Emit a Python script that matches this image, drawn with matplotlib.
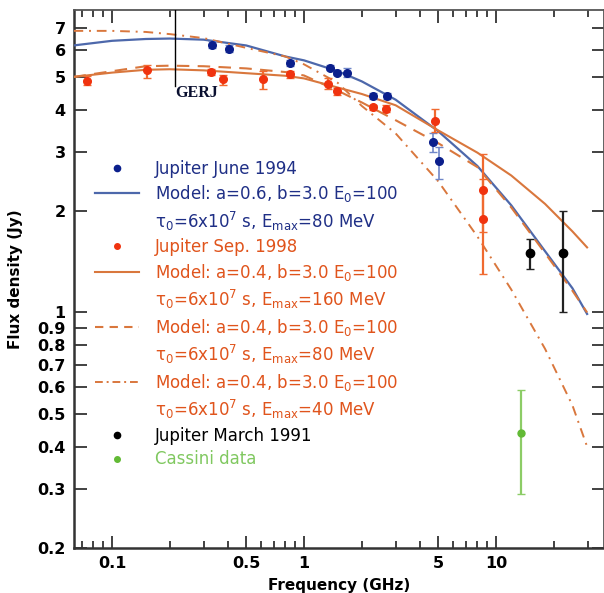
import matplotlib
matplotlib.use("Agg")
import matplotlib.pyplot as plt
from matplotlib.lines import Line2D
from matplotlib.legend_handler import HandlerLine2D
from matplotlib.ticker import FixedLocator, NullFormatter, FixedFormatter
import numpy as np

# ---------------- data ----------------
june94_freq = [0.33, 0.407, 0.846, 1.37, 1.49, 1.68, 2.30, 2.70, 4.72, 5.05]
june94_flux = [6.23, 6.07, 5.49, 5.33, 5.15, 5.15, 4.39, 4.39, 3.20, 2.81]
june94_elo = [0.15, 0.15, 0.12, 0.08, 0.08, 0.15, 0.08, 0.10, 0.20, 0.32]
june94_ehi = [0.15, 0.15, 0.12, 0.08, 0.08, 0.18, 0.08, 0.10, 0.22, 0.28]

sep98_freq = [0.0743, 0.152, 0.329, 0.38, 0.61, 0.846, 1.34, 1.49, 2.30, 2.67, 4.8, 8.52, 8.52]
sep98_flux = [4.87, 5.25, 5.18, 4.92, 4.92, 5.10, 4.76, 4.55, 4.06, 4.03, 3.70, 2.31, 1.89]
sep98_elo = [0.15, 0.27, 0.10, 0.20, 0.31, 0.12, 0.15, 0.12, 0.08, 0.10, 0.27, 0.58, 0.59]
sep98_ehi = [0.15, 0.19, 0.10, 0.15, 0.29, 0.12, 0.20, 0.10, 0.08, 0.10, 0.31, 0.64, 0.60]

mar91_freq = [14.98, 22.2]
mar91_flux = [1.50, 1.50]
mar91_elo = [0.15, 0.50]
mar91_ehi = [0.15, 0.50]

cassini_freq = [13.5]
cassini_flux = [0.44]
cassini_elo = [0.15]
cassini_ehi = [0.15]

model_freq = [0.063, 0.1, 0.15, 0.2, 0.3, 0.5, 0.8, 1.0, 1.5, 2, 3, 5, 8, 12, 18, 25, 29.8]
model_a06_e80 = [6.2, 6.4, 6.48, 6.5, 6.45, 6.2, 5.75, 5.6, 5.2, 4.85, 4.28, 3.45, 2.72, 2.08, 1.52, 1.18, 0.99]
model_a04_e160 = [5.0, 5.15, 5.25, 5.27, 5.23, 5.13, 5.04, 4.95, 4.65, 4.45, 4.12, 3.47, 2.98, 2.55, 2.1, 1.74, 1.56]
model_a04_e80 = [5.0, 5.2, 5.38, 5.4, 5.38, 5.3, 5.17, 5.05, 4.55, 4.2, 3.72, 3.18, 2.7, 2.05, 1.5, 1.16, 1.0]
model_a04_e40 = [6.85, 6.85, 6.8, 6.7, 6.52, 6.1, 5.75, 5.45, 4.8, 4.1, 3.4, 2.45, 1.68, 1.17, 0.78, 0.53, 0.40]

ytick_vals = [0.2, 0.3, 0.4, 0.5, 0.6, 0.7, 0.8, 0.9, 1, 2, 3, 4, 5, 6, 7]
ytick_labels = ["0.2", "0.3", "0.4", "0.5", "0.6", "0.7", "0.8", "0.9", "1", "2", "3", "4", "5", "6", "7"]
xmajor_vals = [0.1, 0.5, 1, 5, 10]
xmajor_labels = ["0.1", "0.5", "1", "5", "10"]
xminor_vals = [0.07, 0.08, 0.09, 0.2, 0.3, 0.4, 0.6, 0.7, 0.8, 0.9, 2, 3, 4, 6, 7, 8, 9, 20, 30]

legend_labels = [
    "Jupiter June 1994",
    "Model: a=0.6, b=3.0 E$_0$=100",
    r"$\tau_0$=6x10$^7$ s, E$_{max}$=80 MeV",
    "Jupiter Sep. 1998",
    "Model: a=0.4, b=3.0 E$_0$=100",
    r"$\tau_0$=6x10$^7$ s, E$_{max}$=160 MeV",
    "Model: a=0.4, b=3.0 E$_0$=100",
    r"$\tau_0$=6x10$^7$ s, E$_{max}$=80 MeV",
    "Model: a=0.4, b=3.0 E$_0$=100",
    r"$\tau_0$=6x10$^7$ s, E$_{max}$=40 MeV",
    "Jupiter March 1991",
    "Cassini data",
]

# ---------------- style ----------------
c_blue_pt = "#0b1f8c"
c_blue_err = "#6f86c8"
c_blue_line = "#4d68ab"
c_blue_txt = "#1f2f86"
c_red_pt = "#f0330f"
c_red_err = "#f06a30"
c_orange_line = "#d9773d"
c_orange_txt = "#e0541c"
c_green = "#62ba35"
c_green_txt = "#80c860"

plt.rcParams['mathtext.default'] = 'regular'
plt.rcParams['font.family'] = ['DejaVu Sans']


class RightDot(HandlerLine2D):
    def get_xdata(self, legend, xdescent, ydescent, width, height, fontsize):
        xdata, _ = super().get_xdata(legend, xdescent, ydescent, width, height, fontsize)
        return xdata, [-xdescent + 0.75 * width]


fig = plt.figure(figsize=(6.04, 5.93), dpi=100)
ax = fig.add_axes([74/604, 45/593, 530/604, 538/593])
ax.set_xscale('log')
ax.set_yscale('log')
ax.set_xlim(0.0634, 36.5)
ax.set_ylim(0.2, 7.9)

# models
ax.plot(model_freq, model_a06_e80, color=c_blue_line, lw=1.6, zorder=3)
ax.plot(model_freq, model_a04_e160, color=c_orange_line, lw=1.5, zorder=3)
ax.plot(model_freq, model_a04_e80, color=c_orange_line, lw=1.5, ls=(0, (6, 4)), zorder=3)
ax.plot(model_freq, model_a04_e40, color=c_orange_line, lw=1.4, ls=(0, (5, 3, 1, 3)), zorder=3)

# data
ax.errorbar(june94_freq, june94_flux, yerr=[june94_elo, june94_ehi], fmt='o', ms=5.5,
            color=c_blue_pt, ecolor=c_blue_err, elinewidth=1.2, capsize=3, zorder=5)
ax.errorbar(sep98_freq, sep98_flux, yerr=[sep98_elo, sep98_ehi], fmt='o', ms=5.5,
            color=c_red_pt, ecolor=c_red_err, elinewidth=1.6, capsize=3, zorder=5)
ax.errorbar(mar91_freq, mar91_flux, yerr=[mar91_elo, mar91_ehi], fmt='o', ms=6,
            color='black', ecolor='#222222', elinewidth=1.6, capsize=3, zorder=5)
ax.errorbar(cassini_freq, cassini_flux, yerr=[cassini_elo, cassini_ehi], fmt='o', ms=5,
            color=c_green, ecolor='#8ccc66', elinewidth=1.6, capsize=3, zorder=5)

# GERJ marker
ax.plot([0.213, 0.213], [4.69, 7.9], color='black', lw=1.0, zorder=4)
ax.text(0.213, 4.48, "GERJ", family=['Liberation Serif'], fontweight='bold',
        fontsize=11.5, color='#0a1030', va='center', ha='left')

# ticks
ax.yaxis.set_major_locator(FixedLocator(ytick_vals))
ax.yaxis.set_major_formatter(FixedFormatter(ytick_labels))
ax.yaxis.set_minor_locator(FixedLocator([]))
ax.xaxis.set_major_locator(FixedLocator(xmajor_vals))
ax.xaxis.set_major_formatter(FixedFormatter(xmajor_labels))
ax.xaxis.set_minor_locator(FixedLocator(xminor_vals))
ax.xaxis.set_minor_formatter(NullFormatter())
ax.tick_params(which='both', direction='in', top=True, right=True, width=1.3, color='#333333')
ax.tick_params(which='major', length=9, labelsize=11.5, pad=6)
ax.tick_params(axis='x', which='minor', length=5)
for lab in ax.get_xticklabels() + ax.get_yticklabels():
    lab.set_fontweight('bold')

for s in ['left', 'bottom']:
    ax.spines[s].set_linewidth(1.8)
    ax.spines[s].set_color('#333333')
for s in ['top', 'right']:
    ax.spines[s].set_linewidth(1.3)
    ax.spines[s].set_color('#555555')

ax.set_xlabel("Frequency (GHz)", fontsize=11, fontweight='bold', labelpad=5)
ax.set_ylabel("Flux density (Jy)", fontsize=11, fontweight='bold', labelpad=10)

# legend
blank = Line2D([], [], color='none')
blue_dot = Line2D([], [], ls='none', marker='o', ms=4.5, color=c_blue_pt)
red_dot = Line2D([], [], ls='none', marker='o', ms=4, color=c_red_pt)
black_dot = Line2D([], [], ls='none', marker='o', ms=4.5, color='black')
green_dot = Line2D([], [], ls='none', marker='o', ms=4, color=c_green)
handles = [
    blue_dot,
    Line2D([], [], color=c_blue_line, lw=1.6),
    blank,
    red_dot,
    Line2D([], [], color=c_orange_line, lw=1.5),
    blank,
    Line2D([], [], color=c_orange_line, lw=1.5, ls=(0, (4, 3))),
    blank,
    Line2D([], [], color=c_orange_line, lw=1.4, ls=(0, (4, 2, 1, 2))),
    blank,
    black_dot,
    green_dot,
]
hmap = {h: RightDot(numpoints=1) for h in [blue_dot, red_dot, black_dot, green_dot]}
leg = ax.legend(handles, legend_labels, loc='upper left', bbox_to_anchor=(0.04, 0.722),
                frameon=False, fontsize=12, handlelength=2.6, handletextpad=1.0,
                labelspacing=0.33, borderpad=0, borderaxespad=0, handler_map=hmap)
text_colors = [c_blue_txt, c_blue_txt, c_blue_txt, c_orange_txt, c_orange_txt, c_orange_txt,
               c_orange_txt, c_orange_txt, c_orange_txt, c_orange_txt, 'black', c_green_txt]
for t, c in zip(leg.get_texts(), text_colors):
    t.set_color(c)

fig.savefig("out.png", dpi=100)
